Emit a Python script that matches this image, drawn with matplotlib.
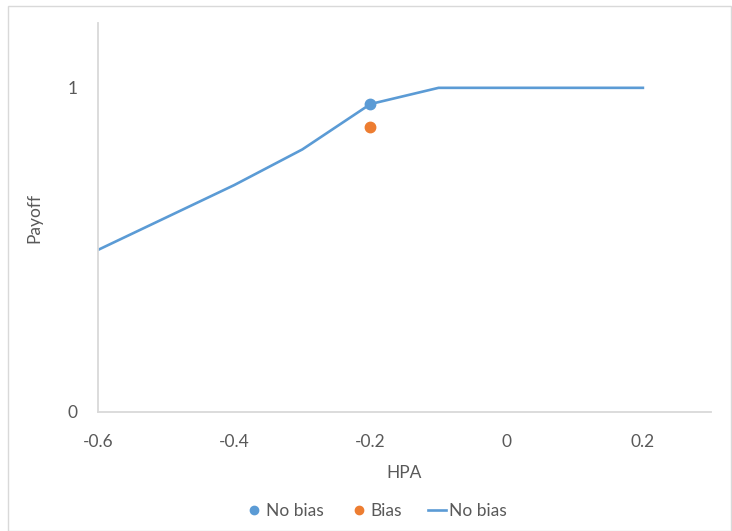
import matplotlib
matplotlib.use("Agg")
import matplotlib.pyplot as plt
from matplotlib.patches import Rectangle
from matplotlib.lines import Line2D

# Payoff curve without bias
hpa_line = [-0.6, -0.4, -0.3, -0.2, -0.1, 0.0, 0.1, 0.2]
payoff_line = [0.5, 0.70, 0.81, 0.95, 1.0, 1.0, 1.0, 1.0]

# Single-point comparisons
hpa_nobias = [-0.2]
payoff_nobias = [0.95]
hpa_bias = [-0.2]
payoff_bias = [0.88]

x_ticks = [-0.6, -0.4, -0.2, 0, 0.2]
x_tick_labels = ["-0.6", "-0.4", "-0.2", "0", "0.2"]
y_ticks = [0, 1]
y_tick_labels = ["0", "1"]

BLUE = "#5B9BD5"
ORANGE = "#ED7D31"
TEXT = "#595959"
AXIS = "#D9D9D9"
FS = 12.5

plt.rcParams["font.family"] = ["Lato", "DejaVu Sans"]

W, H = 732, 531
fig = plt.figure(figsize=(W / 100, H / 100), dpi=100)

# chart area border
fig.patches.append(Rectangle((8 / W, 0), (731 - 8) / W, (H - 6) / H,
                             transform=fig.transFigure, fill=False,
                             edgecolor="#D9D9D9", linewidth=1.0))

ax = fig.add_axes([98 / W, (H - 412) / H, (711 - 98) / W, (412 - 23) / H])

ax.plot(hpa_line, payoff_line, color=BLUE, linewidth=1.9, zorder=2)
ax.plot(hpa_nobias, payoff_nobias, "o", color=BLUE, markersize=7.5, zorder=3)
ax.plot(hpa_bias, payoff_bias, "o", color=ORANGE, markersize=7.5, zorder=3)

ax.set_xlim(-0.6, 0.3)
ax.set_ylim(0, 1.2)
ax.set_xticks(x_ticks)
ax.set_xticklabels(x_tick_labels)
ax.set_yticks(y_ticks)
ax.set_yticklabels(y_tick_labels)

for s in ["top", "right"]:
    ax.spines[s].set_visible(False)
for s in ["left", "bottom"]:
    ax.spines[s].set_color(AXIS)
    ax.spines[s].set_linewidth(1.3)

ax.tick_params(axis="both", length=0, labelsize=FS, colors=TEXT)
ax.tick_params(axis="x", pad=16)
ax.tick_params(axis="y", pad=15)

ax.set_xlabel("HPA", fontsize=FS, color=TEXT, labelpad=11)
ax.set_ylabel("Payoff", fontsize=FS, color=TEXT, labelpad=18)

handles = [
    Line2D([], [], linestyle="none", marker="o", color=BLUE, markersize=6),
    Line2D([], [], linestyle="none", marker="o", color=ORANGE, markersize=6),
    Line2D([], [], color=BLUE, linewidth=1.9),
]
labels = ["No bias", "Bias", "No bias"]
fig.legend(handles, labels, loc="center", bbox_to_anchor=(376 / W, 1 - 511 / H),
           ncol=3, frameon=False, fontsize=FS, labelcolor=TEXT,
           handlelength=1.0, handletextpad=0.2, columnspacing=1.5)

fig.savefig("out.png", dpi=100)
